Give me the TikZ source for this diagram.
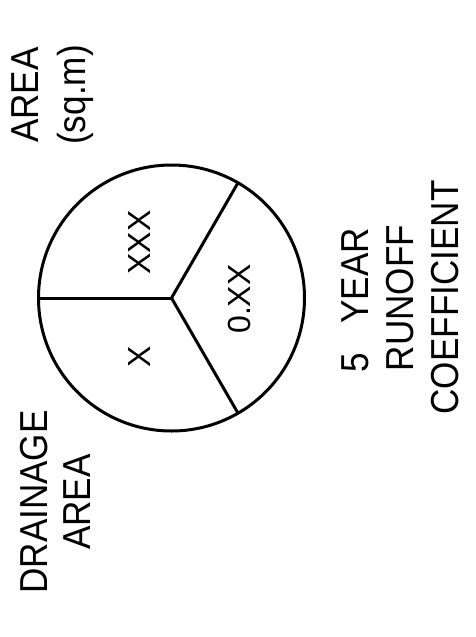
\documentclass[tikz,border=0pt]{standalone}
\usepackage{fontspec}
\setmainfont{Liberation Sans}
\newfontfamily\cadfont[FakeStretch=0.9]{Liberation Sans}
\usetikzlibrary{positioning, calc}

\begin{document}
\begin{tikzpicture}[x=1pt, y=-1pt,
  rim/.style={draw, line width=3pt},
  lbl/.style={rotate=90, anchor=base, inner sep=0pt, font=\cadfont\fontsize{39}{45}\selectfont},
  val/.style={rotate=90, anchor=base, inner sep=0pt, font=\fontsize{32}{38}\selectfont}]
\useasboundingbox (0,0) rectangle (475,637);
\node[circle, rim, minimum size=266pt, inner sep=0pt, outer sep=0pt] (pie) at (171.5,298) {};
\coordinate (hub) at (pie.center);
\draw[rim] (hub) -- (pie.180); \draw[rim] (hub) -- (pie.60); \draw[rim] (hub) -- (pie.-60);
\node[val] (xxx) at (150,242.5) {XXX};
\node[val] (x)   at (150,356.5) {X};
\node[val] (cf)  at (250,299)   {0.XX};
\node[lbl] (area)   at (38,95)    {AREA};
\node[lbl] (sqm)    at (85,95)    {(sq.m)};
\node[lbl] (drain)  at (47,502)   {DRAINAGE};
\node[lbl] (darea)  at (90,502)   {AREA};
\node[lbl] (yr)     at (368,300)  {5\hspace{0.75em}YEAR};
\node[lbl] (runoff) at (413,298)  {RUNOFF};
\node[lbl] (coef)   at (458,297.5) {COEFFICIENT};
\end{tikzpicture}
\end{document}
